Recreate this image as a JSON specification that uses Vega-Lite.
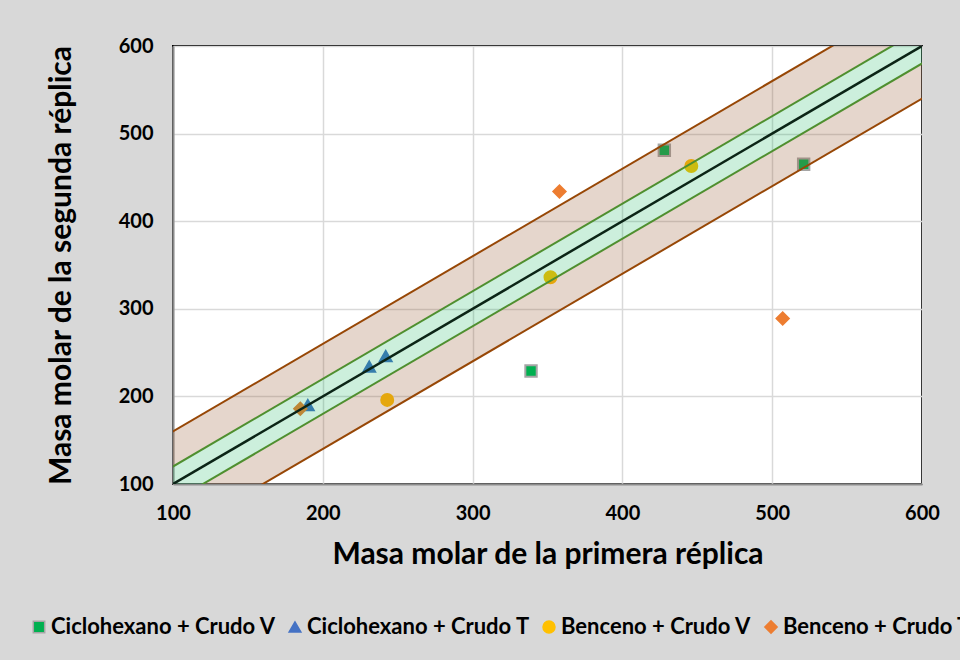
{
  "$schema": "https://vega.github.io/schema/vega-lite/v6.json",
  "width": 749,
  "height": 438,
  "autosize": {"type": "none"},
  "padding": {"left": 173, "top": 46, "right": 38, "bottom": 176},
  "background": "#d8d8d8",
  "config": {
    "view": {"fill": "white", "stroke": "black", "strokeWidth": 2},
    "font": "Lato",
    "axis": {
      "grid": true,
      "gridColor": "#d9d9d9",
      "gridWidth": 1.5,
      "ticks": false,
      "domainColor": "#8c8c8c",
      "domainWidth": 2,
      "labelFont": "Lato",
      "labelFontSize": 20,
      "labelFontWeight": "bold",
      "labelColor": "black",
      "labelOverlap": false,
      "labelFlush": false,
      "titleFont": "Lato",
      "titleFontSize": 30,
      "titleFontWeight": "bold",
      "titleColor": "black"
    }
  },
  "datasets": {
    "points": [
      {"serie": "Ciclohexano + Crudo V", "x": 428, "y": 481},
      {"serie": "Ciclohexano + Crudo V", "x": 521, "y": 465},
      {"serie": "Ciclohexano + Crudo V", "x": 339, "y": 229},
      {"serie": "Ciclohexano + Crudo T", "x": 190, "y": 190},
      {"serie": "Ciclohexano + Crudo T", "x": 231, "y": 234},
      {"serie": "Ciclohexano + Crudo T", "x": 242, "y": 246},
      {"serie": "Benceno + Crudo V", "x": 446, "y": 463},
      {"serie": "Benceno + Crudo V", "x": 352, "y": 336},
      {"serie": "Benceno + Crudo V", "x": 243, "y": 196},
      {"serie": "Benceno + Crudo T", "x": 358, "y": 434},
      {"serie": "Benceno + Crudo T", "x": 507, "y": 289},
      {"serie": "Benceno + Crudo T", "x": 185, "y": 186}
    ],
    "bands": [
      {"band": "brown_up", "x": 0, "lo": 20, "hi": 60},
      {"band": "brown_up", "x": 700, "lo": 720, "hi": 760},
      {"band": "brown_down", "x": 0, "lo": -60, "hi": -20},
      {"band": "brown_down", "x": 700, "lo": 640, "hi": 680},
      {"band": "green", "x": 0, "lo": -20, "hi": 20},
      {"band": "green", "x": 700, "lo": 680, "hi": 720}
    ],
    "lines": [
      {"line": "diag", "x": 0, "y": 0},
      {"line": "diag", "x": 700, "y": 700},
      {"line": "green_up", "x": 0, "y": 20},
      {"line": "green_up", "x": 700, "y": 720},
      {"line": "green_down", "x": 0, "y": -20},
      {"line": "green_down", "x": 700, "y": 680},
      {"line": "brown_up", "x": 0, "y": 60},
      {"line": "brown_up", "x": 700, "y": 760},
      {"line": "brown_down", "x": 0, "y": -60},
      {"line": "brown_down", "x": 700, "y": 640}
    ]
  },
  "layer": [
    {
      "data": {"name": "points"},
      "mark": {"type": "point", "filled": true, "opacity": 1, "strokeWidth": 2},
      "encoding": {
        "x": {"field": "x", "type": "quantitative", "title": "Masa molar de la primera réplica", "scale": {"domain": [100, 600], "nice": false, "zero": false}, "axis": {"values": [100, 200, 300, 400, 500, 600], "labelPadding": 19, "titlePadding": 16}},
        "y": {"field": "y", "type": "quantitative", "title": "Masa molar de la segunda réplica", "scale": {"domain": [100, 600], "nice": false, "zero": false}, "axis": {"values": [100, 200, 300, 400, 500, 600], "labelPadding": 20, "titlePadding": 42}},
        "color": {
          "field": "serie", "type": "nominal",
          "scale": {"domain": ["Ciclohexano + Crudo V", "Ciclohexano + Crudo T", "Benceno + Crudo V", "Benceno + Crudo T"], "range": ["#00b050", "#4472c4", "#ffc000", "#ed7d31"]},
          "legend": {
            "title": null, "orient": "none", "direction": "horizontal", "columns": 4,
            "legendX": -145, "legendY": 570,
            "labelFont": "Lato", "labelFontSize": 22, "labelFontWeight": "bold", "labelColor": "black", "labelLimit": 0,
            "columnPadding": 8, "labelOffset": 1, "symbolOpacity": 1
          }
        },
        "shape": {
          "field": "serie", "type": "nominal",
          "scale": {"domain": ["Ciclohexano + Crudo V", "Ciclohexano + Crudo T", "Benceno + Crudo V", "Benceno + Crudo T"], "range": ["square", "triangle-up", "circle", "diamond"]}
        },
        "stroke": {
          "field": "serie", "type": "nominal",
          "scale": {"domain": ["Ciclohexano + Crudo V", "Ciclohexano + Crudo T", "Benceno + Crudo V", "Benceno + Crudo T"], "range": ["#a5a5a5", "#4472c4", "#ffc000", "#ed7d31"]}
        },
        "size": {
          "field": "serie", "type": "nominal",
          "scale": {"domain": ["Ciclohexano + Crudo V", "Ciclohexano + Crudo T", "Benceno + Crudo V", "Benceno + Crudo T"], "range": [130, 150, 180, 130]}
        }
      }
    },
    {
      "data": {"name": "bands"},
      "mark": {"type": "area", "clip": true, "opacity": 0.25},
      "transform": [{"filter": "datum.band !== 'green'"}],
      "encoding": {
        "x": {"field": "x", "type": "quantitative", "title": "Masa molar de la primera réplica", "scale": {"domain": [100, 600], "nice": false, "zero": false}},
        "y": {"field": "lo", "type": "quantitative", "title": "Masa molar de la segunda réplica", "scale": {"domain": [100, 600], "nice": false, "zero": false}},
        "y2": {"field": "hi"},
        "detail": {"field": "band"},
        "color": {"value": "#965a32"}
      }
    },
    {
      "data": {"name": "bands"},
      "mark": {"type": "area", "clip": true, "opacity": 0.2},
      "transform": [{"filter": "datum.band === 'green'"}],
      "encoding": {
        "x": {"field": "x", "type": "quantitative", "title": "Masa molar de la primera réplica", "scale": {"domain": [100, 600], "nice": false, "zero": false}},
        "y": {"field": "lo", "type": "quantitative", "title": "Masa molar de la segunda réplica", "scale": {"domain": [100, 600], "nice": false, "zero": false}},
        "y2": {"field": "hi"},
        "color": {"value": "#00b050"}
      }
    },
    {
      "data": {"name": "lines"},
      "mark": {"type": "line", "clip": true, "strokeWidth": 2, "color": "#4f8f2f"},
      "transform": [{"filter": "datum.line === 'green_up' || datum.line === 'green_down'"}],
      "encoding": {
        "x": {"field": "x", "type": "quantitative", "title": "Masa molar de la primera réplica", "scale": {"domain": [100, 600], "nice": false, "zero": false}},
        "y": {"field": "y", "type": "quantitative", "title": "Masa molar de la segunda réplica", "scale": {"domain": [100, 600], "nice": false, "zero": false}},
        "detail": {"field": "line"}
      }
    },
    {
      "data": {"name": "lines"},
      "mark": {"type": "line", "clip": true, "strokeWidth": 2, "color": "#974706"},
      "transform": [{"filter": "datum.line === 'brown_up' || datum.line === 'brown_down'"}],
      "encoding": {
        "x": {"field": "x", "type": "quantitative", "title": "Masa molar de la primera réplica", "scale": {"domain": [100, 600], "nice": false, "zero": false}},
        "y": {"field": "y", "type": "quantitative", "title": "Masa molar de la segunda réplica", "scale": {"domain": [100, 600], "nice": false, "zero": false}},
        "detail": {"field": "line"}
      }
    },
    {
      "data": {"name": "lines"},
      "mark": {"type": "line", "clip": true, "strokeWidth": 2.5, "color": "#0b2416"},
      "transform": [{"filter": "datum.line === 'diag'"}],
      "encoding": {
        "x": {"field": "x", "type": "quantitative", "title": "Masa molar de la primera réplica", "scale": {"domain": [100, 600], "nice": false, "zero": false}},
        "y": {"field": "y", "type": "quantitative", "title": "Masa molar de la segunda réplica", "scale": {"domain": [100, 600], "nice": false, "zero": false}}
      }
    }
  ]
}
